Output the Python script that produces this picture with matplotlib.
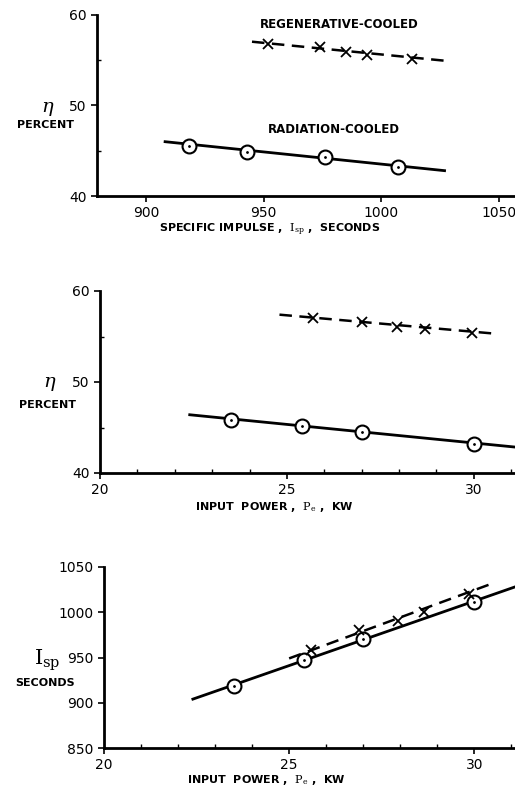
import matplotlib
matplotlib.use("Agg")
import matplotlib.pyplot as plt
from matplotlib.ticker import MultipleLocator

# panel 1: efficiency vs specific impulse
isp_rad = [918, 943, 976, 1007]
eta_rad_isp = [45.5, 44.9, 44.3, 43.2]
isp_rad_line = [908, 1027]
eta_rad_isp_line = [46.0, 42.8]

isp_regen = [952, 974, 985, 994, 1013]
eta_regen_isp = [56.8, 56.5, 55.9, 55.6, 55.1]
isp_regen_line = [945, 1027]
eta_regen_isp_line = [57.05, 54.95]

# panel 2: efficiency vs input power
pw_rad = [23.5, 25.4, 27.0, 30.0]
eta_rad_pw = [45.8, 45.2, 44.5, 43.2]
pw_rad_line = [22.4, 31.1]
eta_rad_pw_line = [46.4, 42.85]

pw_regen = [25.7, 27.0, 27.95, 28.7, 29.95]
eta_regen_pw = [57.0, 56.6, 56.0, 55.8, 55.4]
pw_regen_line = [24.8, 30.6]
eta_regen_pw_line = [57.4, 55.3]

# panel 3: specific impulse vs input power
isp_rad_pw = [919, 947, 970, 1011]
isp_rad_pw_line = [904, 1028]
isp_regen_pw = [958, 980, 990, 1000, 1020]
pw_regen3 = [25.6, 26.9, 27.95, 28.65, 29.85]
pw_regen3_line = [25.0, 30.5]
isp_regen_pw_line = [949, 1032]

W, H = 515, 793
plt.rcParams['font.family'] = 'DejaVu Sans'
plt.rcParams['mathtext.fontset'] = 'dejavuserif'
fig = plt.figure(figsize=(W / 100, H / 100), dpi=100)


def make_ax(left, bottom, top):
    ax = fig.add_axes([left / W, 1 - bottom / H, 1 - left / W, (bottom - top) / H])
    for s in ['top', 'right']:
        ax.spines[s].set_visible(False)
    for s in ['left', 'bottom']:
        ax.spines[s].set_linewidth(2.0)
    ax.tick_params(direction='out', length=4, width=1.2, labelsize=10)
    ax.tick_params(which='minor', direction='in', length=3, width=1.0)
    return ax


def circles(ax, x, y):
    ax.plot(x, y, 'o', ms=10, mfc='white', mec='black', mew=1.5, zorder=3)
    ax.plot(x, y, '.', ms=2, color='black', zorder=4)


def crosses(ax, x, y):
    ax.plot(x, y, 'x', ms=7, mew=1.3, color='black', zorder=4)


# --- panel 1 ---
ax1 = make_ax(97, 196, 15)
ax1.plot(isp_rad_line, eta_rad_isp_line, '-', color='black', lw=2)
circles(ax1, isp_rad, eta_rad_isp)
ax1.plot(isp_regen_line, eta_regen_isp_line, '--', color='black', lw=1.8, dashes=(5, 3))
crosses(ax1, isp_regen, eta_regen_isp)
ax1.set_xlim(879, 1057)
ax1.set_ylim(40, 60)
ax1.set_xticks([900, 950, 1000, 1050])
ax1.set_yticks([40, 50, 60])
ax1.yaxis.set_minor_locator(MultipleLocator(5))
ax1.text(982, 58.6, 'REGENERATIVE-COOLED', fontsize=8.5, fontweight='bold', ha='center')
ax1.text(980, 47.0, 'RADIATION-COOLED', fontsize=8.5, fontweight='bold', ha='center')

# --- panel 2 ---
ax2 = make_ax(100, 473, 291)
ax2.plot(pw_rad_line, eta_rad_pw_line, '-', color='black', lw=2)
circles(ax2, pw_rad, eta_rad_pw)
ax2.plot(pw_regen_line, eta_regen_pw_line, '--', color='black', lw=1.8, dashes=(5, 3))
crosses(ax2, pw_regen, eta_regen_pw)
ax2.set_xlim(20, 31.1)
ax2.set_ylim(40, 60)
ax2.set_xticks([20, 25, 30])
ax2.set_yticks([40, 50, 60])
ax2.xaxis.set_minor_locator(MultipleLocator(1))
ax2.yaxis.set_minor_locator(MultipleLocator(5))

# --- panel 3 ---
ax3 = make_ax(104, 748, 567)
ax3.plot(pw_rad_line, isp_rad_pw_line, '-', color='black', lw=2)
circles(ax3, pw_rad, isp_rad_pw)
ax3.plot(pw_regen3_line, isp_regen_pw_line, '--', color='black', lw=1.8, dashes=(5, 3))
crosses(ax3, pw_regen3, isp_regen_pw)
ax3.set_xlim(20, 31.1)
ax3.set_ylim(850, 1050)
ax3.set_xticks([20, 25, 30])
ax3.set_yticks([850, 900, 950, 1000, 1050])
ax3.xaxis.set_minor_locator(MultipleLocator(1))

# axis labels
lab = dict(fontsize=8, fontweight='bold', ha='center', va='center')
fig.text(270 / W, 1 - 230 / H, r'SPECIFIC IMPULSE ,  $\mathrm{I_{sp}}$ ,  SECONDS', **lab)
fig.text(274 / W, 1 - 507 / H, r'INPUT  POWER ,  $\mathrm{P_e}$ ,  KW', **lab)
fig.text(266 / W, 1 - 780 / H, r'INPUT  POWER ,  $\mathrm{P_e}$ ,  KW', **lab)

fig.text(48 / W, 1 - 109 / H, r'$\eta$', fontsize=14, ha='center', va='center')
fig.text(45 / W, 1 - 125 / H, 'PERCENT', **lab)
fig.text(50 / W, 1 - 383 / H, r'$\eta$', fontsize=14, ha='center', va='center')
fig.text(47 / W, 1 - 405 / H, 'PERCENT', **lab)
fig.text(47 / W, 1 - 660 / H, r'$\mathrm{I_{sp}}$', fontsize=15, ha='center', va='center')
fig.text(45 / W, 1 - 683 / H, 'SECONDS', **lab)

fig.savefig('out.png', dpi=100)
